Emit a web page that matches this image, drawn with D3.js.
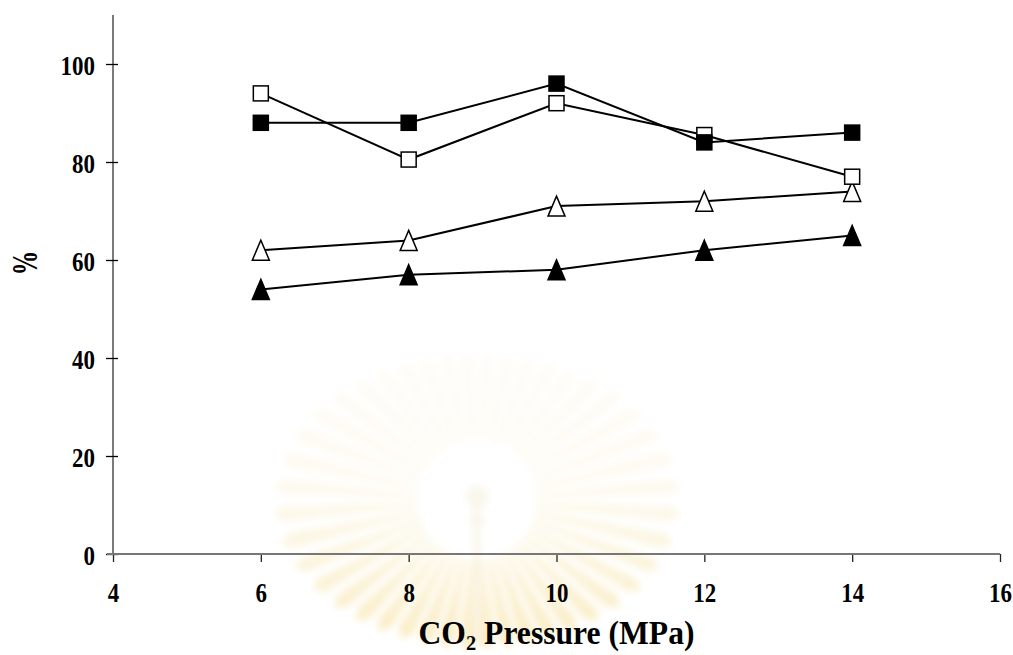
<!DOCTYPE html>
<html>
<head>
<meta charset="utf-8">
<script src="https://cdn.jsdelivr.net/npm/d3@7"></script>
<style>
  body { margin: 0; background: #fff; }
  svg { display: block; }
  text { font-family: "Liberation Serif", "Times New Roman", serif; font-weight: bold; fill: #000; }
</style>
</head>
<body>
<svg id="chart" width="1013" height="655"></svg>
<script>
// CO2 pressure (MPa) and measured percentages for the four series
const pressure       = [6, 8, 10, 12, 14];
const filledSquare   = [88, 88, 96, 84, 86];
const openSquare     = [94, 80.5, 92, 85.5, 77];
const openTriangle   = [62, 64, 71, 72, 74];
const filledTriangle = [54, 57, 58, 62, 65];

const xTicks = [4, 6, 8, 10, 12, 14, 16];
const yTicks = [0, 20, 40, 60, 80, 100];

const svg = d3.select("#chart");

const x = d3.scaleLinear().domain([4, 16]).range([113, 1000]);
const y = d3.scaleLinear().domain([0, 110]).range([554, 15]);

// ---- faint crest watermark behind the plot ----
(function drawCrest() {
  const defs = svg.append("defs");
  const blur = defs.append("filter").attr("id", "soft")
    .attr("x", "-20%").attr("y", "-20%").attr("width", "140%").attr("height", "140%");
  blur.append("feGaussianBlur").attr("stdDeviation", 3.5);
  const grad = defs.append("linearGradient").attr("id", "rayFill")
    .attr("gradientUnits", "userSpaceOnUse")
    .attr("x1", 0).attr("y1", 345).attr("x2", 0).attr("y2", 655);
  grad.append("stop").attr("offset", "0").attr("stop-color", "#fefdf9");
  grad.append("stop").attr("offset", "0.45").attr("stop-color", "#fdfaf0");
  grad.append("stop").attr("offset", "0.68").attr("stop-color", "#fcf5e0");
  grad.append("stop").attr("offset", "1").attr("stop-color", "#faecc2");

  const cx = 477, cy = 500;
  const g = svg.append("g").attr("filter", "url(#soft)");
  const n = 44;
  d3.range(n).forEach(i => {
    const a = (i + 0.5) / n * 2 * Math.PI;
    const ux = Math.cos(a), uy = Math.sin(a);
    const px = -uy, py = ux;
    const r0 = 60, rx = 205, ry = 150;
    // outer reach follows an ellipse
    const rOut = 1 / Math.sqrt((ux * ux) / (rx * rx) + (uy * uy) / (ry * ry));
    const w0 = 2.5, w1 = 8;
    const p = [
      [cx + ux * r0 + px * w0, cy + uy * r0 + py * w0],
      [cx + ux * (rOut - 10) + px * w1, cy + uy * (rOut - 10) + py * w1],
      [cx + ux * rOut, cy + uy * rOut],
      [cx + ux * (rOut - 10) - px * w1, cy + uy * (rOut - 10) - py * w1],
      [cx + ux * r0 - px * w0, cy + uy * r0 - py * w0]
    ];
    g.append("path").attr("d", "M" + p.join("L") + "Z").attr("fill", "url(#rayFill)");
  });
  g.append("circle").attr("cx", cx).attr("cy", cy - 3).attr("r", 11).attr("fill", "#f9f6ec");
  g.append("rect").attr("x", cx - 3).attr("y", cy + 8).attr("width", 6).attr("height", 140).attr("fill", "#f9f4e6");
  g.append("rect").attr("x", cx - 8).attr("y", cy + 19).attr("width", 16).attr("height", 3).attr("fill", "#f7f1e0");
})();

// ---- axes ----
svg.append("line")
  .attr("x1", x(4)).attr("x2", x(4)).attr("y1", y(0)).attr("y2", y(110))
  .attr("stroke", "#333").attr("stroke-width", 1.3);

const yAxis = d3.axisLeft(y).tickValues(yTicks).tickSize(6).tickFormat(d3.format("d"));
const gy = svg.append("g").attr("transform", `translate(${x(4)},0)`).call(yAxis);
gy.select(".domain").remove();
gy.selectAll(".tick line").attr("x1", 5).attr("x2", -7).attr("stroke", "#000").attr("stroke-width", 1.3);
gy.selectAll(".tick text")
  .attr("x", 0).attr("dy", "0.35em")
  .attr("text-anchor", "end")
  .attr("transform", "translate(-18,1) scale(0.82,1)")
  .style("font-size", "28px");
gy.attr("font-family", null).attr("font-size", null);

const xAxis = d3.axisBottom(x).tickValues(xTicks).tickSize(8).tickFormat(d3.format("d"));
const gx = svg.append("g").attr("transform", `translate(0,${y(0)})`).call(xAxis);
gx.select(".domain").remove();
gx.selectAll(".tick line").attr("stroke", "#222").attr("stroke-width", 1.3);
gx.selectAll(".tick text")
  .attr("y", 0).attr("dy", null)
  .attr("text-anchor", "middle")
  .attr("transform", "translate(0,48) scale(0.82,1)")
  .style("font-size", "28px");
gx.attr("font-family", null).attr("font-size", null);

svg.append("line")
  .attr("x1", x(4) - 6).attr("x2", x(16)).attr("y1", y(0)).attr("y2", y(0))
  .attr("stroke", "#777").attr("stroke-width", 2.2);

// axis titles
const xt = svg.append("text")
  .attr("text-anchor", "middle")
  .attr("transform", `translate(${(x(4) + x(16)) / 2},644) scale(0.93,1)`)
  .style("font-size", "34px");
xt.append("tspan").text("CO");
xt.append("tspan").attr("dy", 6).style("font-size", "22px").text("2");
xt.append("tspan").attr("dy", -6).text(" Pressure (MPa)");

svg.append("text")
  .attr("text-anchor", "middle")
  .attr("transform", "translate(37,263) rotate(-90) scale(0.7,1)")
  .style("font-size", "35px")
  .text("%");

// ---- series ----
const series = [
  { values: openTriangle,   shape: "triangle", fill: "#fff" },
  { values: filledTriangle, shape: "triangle", fill: "#000" },
  { values: openSquare,     shape: "square",   fill: "#fff" },
  { values: filledSquare,   shape: "square",   fill: "#000" }
];

const line = d3.line().x(d => x(d[0])).y(d => y(d[1]));
const triPath = "M0,-10L8.5,10L-8.5,10Z";

series.forEach(s => {
  const pts = pressure.map((p, i) => [p, s.values[i]]);
  const g = svg.append("g");
  g.append("path").datum(pts).attr("d", line)
    .attr("fill", "none").attr("stroke", "#000").attr("stroke-width", 2);
  const m = g.selectAll(".m").data(pts).enter();
  if (s.shape === "square") {
    m.append("rect")
      .attr("x", d => x(d[0]) - 7.5).attr("y", d => y(d[1]) - 7.5)
      .attr("width", 15).attr("height", 15)
      .attr("fill", s.fill).attr("stroke", "#000").attr("stroke-width", 1.5);
  } else {
    m.append("path")
      .attr("transform", d => `translate(${x(d[0])},${y(d[1])})`)
      .attr("d", triPath)
      .attr("fill", s.fill).attr("stroke", "#000").attr("stroke-width", 1.5)
      .attr("stroke-linejoin", "miter");
  }
});
</script>
</body>
</html>
